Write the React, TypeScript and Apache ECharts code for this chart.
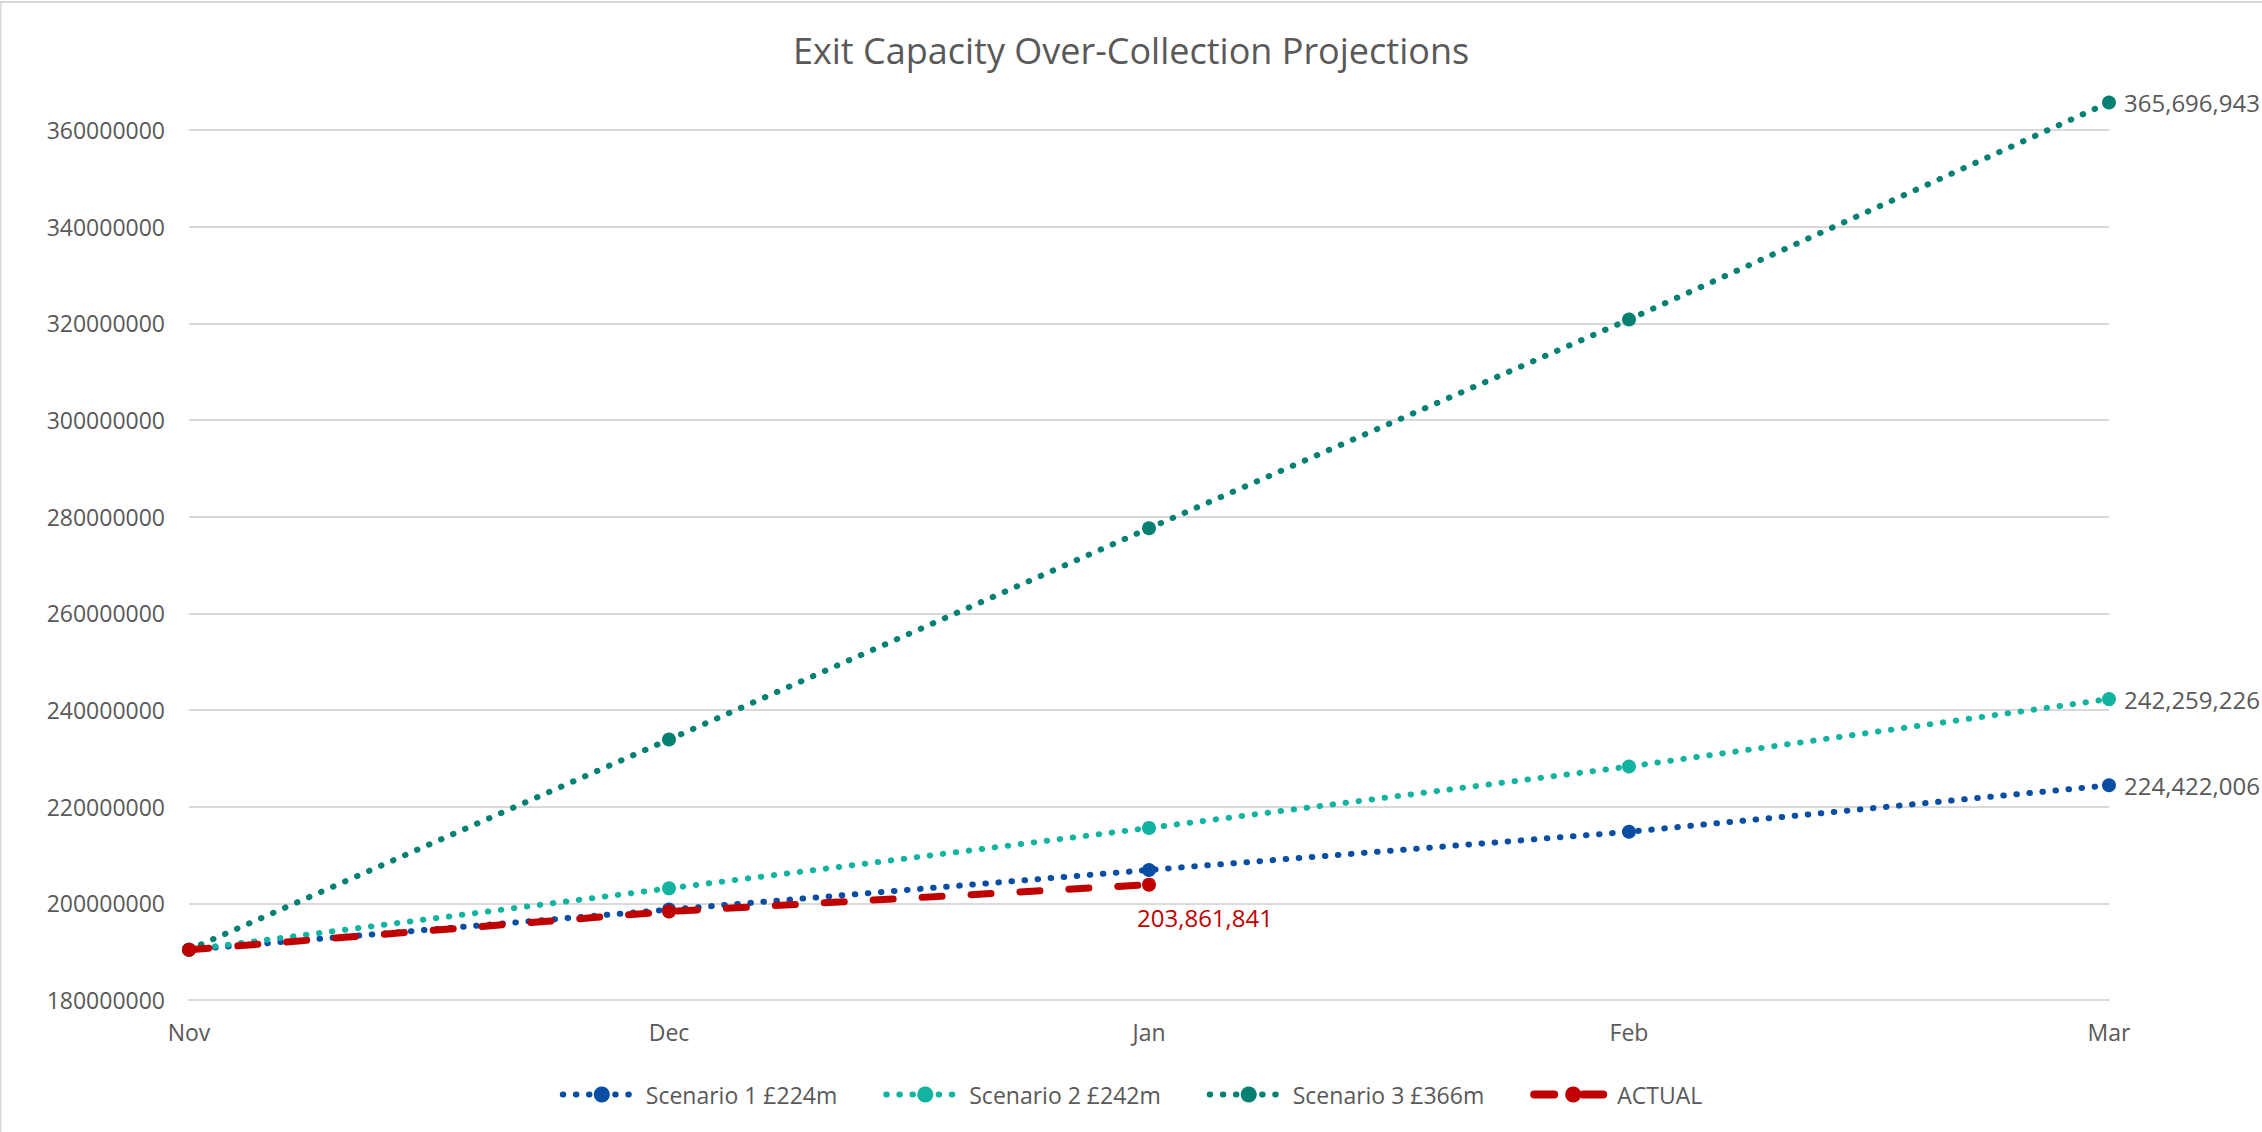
import React, { useEffect, useRef } from "react";
import * as echarts from "echarts";

const months = ["Nov", "Dec", "Jan", "Feb", "Mar"];
const scenario1 = [190400000, 198700000, 206900000, 214800000, 224422006];
const scenario2 = [190400000, 203100000, 215600000, 228300000, 242259226];
const scenario3 = [190400000, 233900000, 277600000, 320800000, 365696943];
const actual = [190400000, 198300000, 203861841];

const seriesNames = ["Scenario 1 £224m", "Scenario 2 £242m", "Scenario 3 £366m", "ACTUAL"];
const colors = ["#0a4ea3", "#12b3a1", "#048172", "#c00000"];

const FONT = "'Open Sans', 'Noto Sans', sans-serif";
const TEXT = "#595959";

const fmt = (v: number) => Math.round(v).toLocaleString("en-US");

export default function App() {
  const ref = useRef<HTMLDivElement>(null);
  useEffect(() => {
    if (!ref.current) return;
    const chart = echarts.init(ref.current, undefined, { renderer: "svg" });
    const dotted = (idx: number, data: number[]) => ({
      name: seriesNames[idx],
      type: "line",
      data,
      clip: false,
      symbol: "circle",
      symbolSize: 14,
      itemStyle: { color: colors[idx] },
      lineStyle: { color: colors[idx], width: 6, type: [0.5, 12.6], cap: "round" },
      label: {
        show: true,
        position: "right",
        distance: 8,
        color: TEXT,
        fontFamily: FONT,
        fontSize: 24,
        formatter: (p: any) => (p.dataIndex === data.length - 1 ? fmt(p.value) : ""),
      },
      z: 2 + idx,
    });
    chart.setOption({
      animation: false,
      backgroundColor: "#ffffff",
      title: {
        text: "Exit Capacity Over-Collection Projections",
        left: "center",
        top: 27,
        textStyle: { color: TEXT, fontFamily: FONT, fontSize: 36, fontWeight: "normal" },
      },
      graphic: [
        {
          type: "rect",
          shape: { x: 0.5, y: 2, width: 2270, height: 1140 },
          style: { fill: "none", stroke: "#d9d9d9", lineWidth: 2 },
          silent: true,
        },
      ],
      grid: { left: 189, right: 153, top: 130, bottom: 132, containLabel: false },
      legend: {
        top: 1078,
        left: "center",
        itemWidth: 78,
        itemHeight: 20,
        itemGap: 46,
        textStyle: { color: TEXT, fontFamily: FONT, fontSize: 23 },
        data: [
          { name: seriesNames[0], lineStyle: { width: 6, type: [0.5, 12.6], cap: "round" } },
          { name: seriesNames[1], lineStyle: { width: 6, type: [0.5, 12.6], cap: "round" } },
          { name: seriesNames[2], lineStyle: { width: 6, type: [0.5, 12.6], cap: "round" } },
          { name: seriesNames[3], lineStyle: { width: 8, type: [20, 29], cap: "round" } },
        ],
      },
      xAxis: {
        type: "category",
        data: months,
        boundaryGap: false,
        axisLine: { show: true, lineStyle: { color: "#d9d9d9", width: 2 } },
        axisTick: { show: false },
        axisLabel: { color: TEXT, fontFamily: FONT, fontSize: 23, margin: 20 },
      },
      yAxis: {
        type: "value",
        min: 180000000,
        max: 360000000,
        interval: 20000000,
        axisLine: { show: false },
        axisTick: { show: false },
        axisLabel: { color: TEXT, fontFamily: FONT, fontSize: 23, margin: 24, formatter: (v: number) => String(v) },
        splitLine: { lineStyle: { color: "#d9d9d9", width: 2 } },
      },
      series: [
        dotted(0, scenario1),
        dotted(1, scenario2),
        dotted(2, scenario3),
        {
          name: seriesNames[3],
          type: "line",
          data: actual,
          clip: false,
          symbol: "circle",
          symbolSize: 14,
          itemStyle: { color: colors[3] },
          lineStyle: { color: colors[3], width: 7, type: [20, 29], cap: "round" },
          label: {
            show: true,
            position: "bottom",
            distance: 14,
            offset: [56, 0],
            color: "#c00000",
            fontFamily: FONT,
            fontSize: 24,
            formatter: (p: any) => (p.dataIndex === actual.length - 1 ? fmt(p.value) : ""),
          },
          z: 6,
        },
      ],
    });
    return () => chart.dispose();
  }, []);
  return (
    <div
      ref={ref}
      style={{ position: "fixed", left: 0, top: 0, width: 2262, height: 1132 }}
    />
  );
}
